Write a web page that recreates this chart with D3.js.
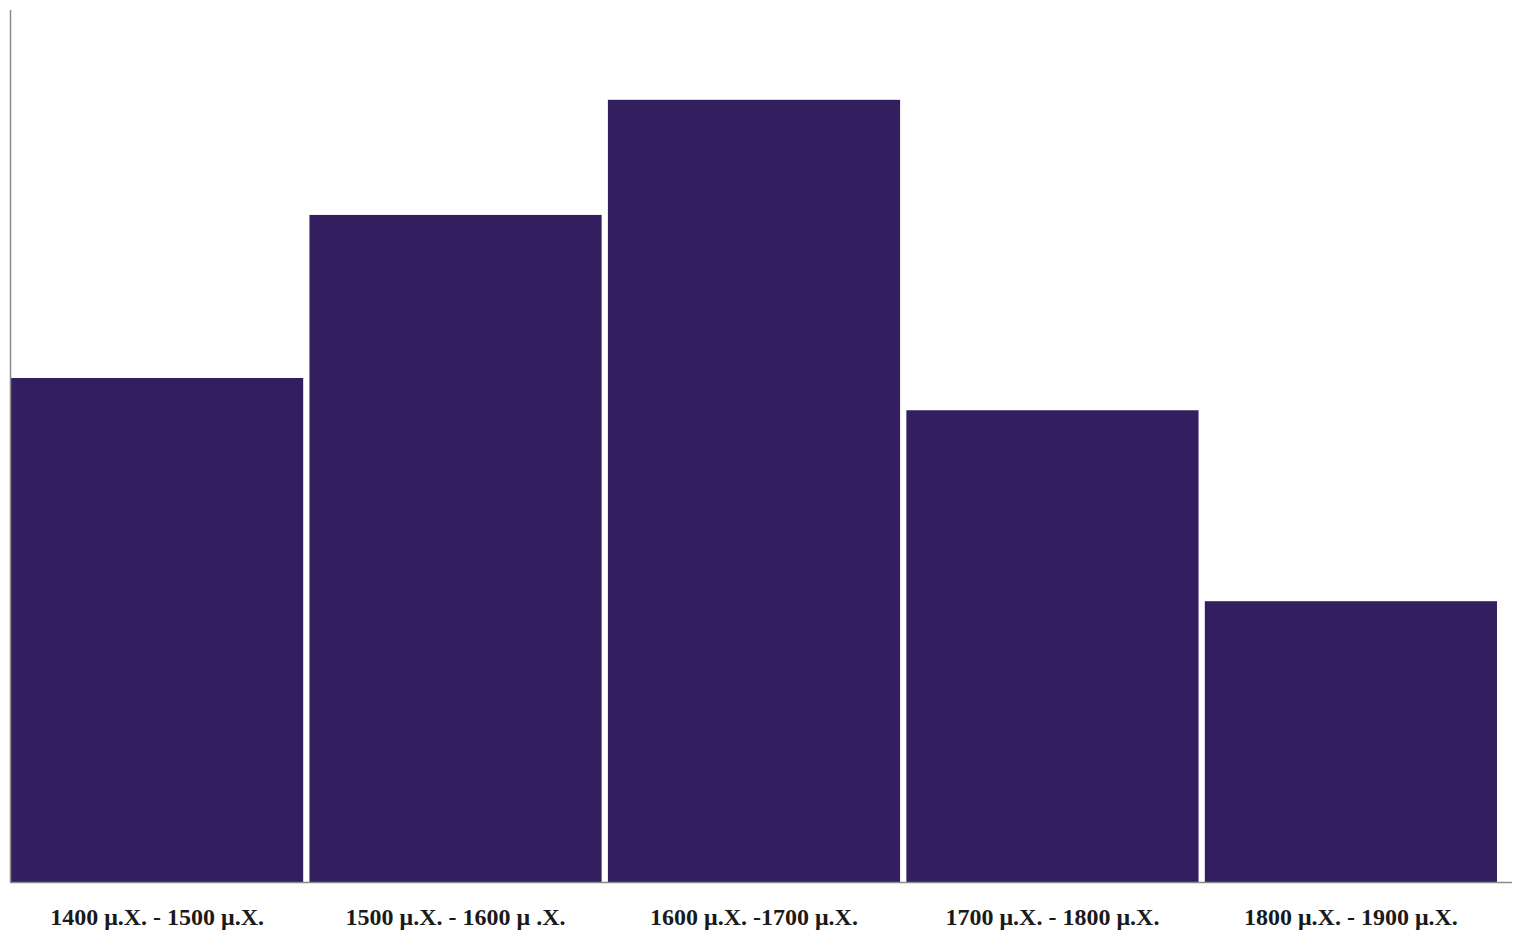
<!DOCTYPE html>
<html>
<head>
<meta charset="utf-8">
<script src="https://cdn.jsdelivr.net/npm/d3@7"></script>
<style>
  html, body { margin: 0; padding: 0; background: #ffffff; }
  svg { display: block; }
</style>
</head>
<body>
<svg id="chart" width="1515" height="935"></svg>
<script>
const categories = [
  "1400 μ.Χ. - 1500 μ.Χ.",
  "1500 μ.Χ. - 1600 μ .Χ.",
  "1600 μ.Χ. -1700 μ.Χ.",
  "1700 μ.Χ. - 1800 μ.Χ.",
  "1800 μ.Χ. - 1900 μ.Χ."
];
const values = [57.8, 76.5, 89.7, 54.1, 32.2];
const yDomain = [0, 100];

const svg = d3.select("#chart");
const baseY = 882, topY = 10;

const x = d3.scaleBand()
  .domain(categories)
  .range([11, 1497])
  .paddingInner(0.021)
  .paddingOuter(0);

const y = d3.scaleLinear().domain(yDomain).range([baseY, topY]);

svg.append("g").selectAll("rect")
  .data(categories)
  .join("rect")
  .attr("x", d => x(d))
  .attr("y", (d, i) => y(values[i]))
  .attr("width", x.bandwidth())
  .attr("height", (d, i) => y(0) - y(values[i]))
  .attr("fill", "#331e5f");

// y axis line
svg.append("line")
  .attr("x1", 10.5).attr("x2", 10.5)
  .attr("y1", topY).attr("y2", baseY)
  .attr("stroke", "#8a8a8a").attr("stroke-width", 1.5);

// x axis
const xAxis = d3.axisBottom(x).tickSize(0).tickPadding(26);
const gx = svg.append("g")
  .attr("transform", `translate(0,${baseY})`)
  .call(xAxis);
gx.select(".domain").remove();
svg.append("line")
  .attr("x1", 10).attr("x2", 1512)
  .attr("y1", baseY + 0.5).attr("y2", baseY + 0.5)
  .attr("stroke", "#8a8a8a").attr("stroke-width", 1.5);
gx.selectAll("text")
  .attr("font-family", "'Liberation Serif', 'Times New Roman', serif")
  .attr("font-weight", "bold")
  .attr("font-size", "24px")
  .attr("fill", "#1a1a1a");
</script>
</body>
</html>
